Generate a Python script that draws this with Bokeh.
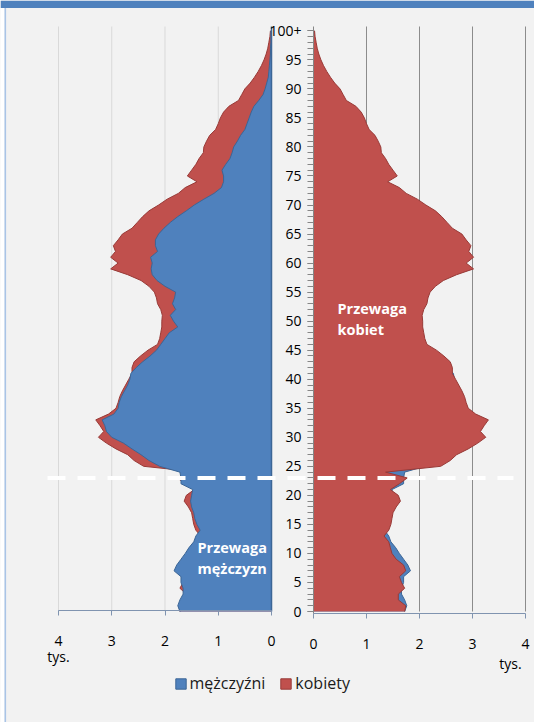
from bokeh.plotting import figure
from bokeh.models import (Range1d, LinearAxis, FixedTicker, Legend, LegendItem,
                          ColumnDataSource, BoxAnnotation)
from bokeh.core.properties import value
from bokeh.embed import file_html
from bokeh.resources import INLINE

# ---------------- data (thousands of persons, by single year of age) ----------------
ages = list(range(0, 101))
men = [
    1.72, 1.76, 1.72, 1.66, 1.66, 1.70, 1.70, 1.83, 1.78, 1.70,   # 0-9
    1.62, 1.55, 1.46, 1.42, 1.34, 1.40, 1.44, 1.46, 1.50, 1.52,   # 10-19
    1.50, 1.48, 1.70, 1.70, 1.72, 2.10, 2.30, 2.45, 2.62, 2.78,   # 20-29
    3.00, 3.10, 3.13, 3.18, 2.96, 2.88, 2.86, 2.82, 2.76, 2.70,   # 30-39
    2.66, 2.64, 2.54, 2.42, 2.28, 2.16, 2.08, 2.00, 1.92, 1.76,   # 40-49
    1.84, 1.90, 1.80, 1.86, 1.82, 1.80, 2.00, 2.15, 2.24, 2.26,   # 50-59
    2.24, 2.27, 2.14, 2.18, 2.18, 2.12, 2.02, 1.90, 1.76, 1.60,   # 60-69
    1.45, 1.27, 1.08, 0.94, 0.90, 0.90, 0.93, 0.86, 0.78, 0.74,   # 70-79
    0.71, 0.64, 0.58, 0.50, 0.46, 0.42, 0.38, 0.33, 0.24, 0.16,   # 80-89
    0.12, 0.09, 0.06, 0.05, 0.04, 0.03, 0.02, 0.02, 0.01, 0.01,   # 90-99
    0.01,                                                         # 100+
]
women = [
    1.72, 1.74, 1.60, 1.60, 1.72, 1.66, 1.62, 1.74, 1.70, 1.56,   # 0-9
    1.48, 1.45, 1.42, 1.33, 1.42, 1.46, 1.48, 1.50, 1.56, 1.64,   # 10-19
    1.60, 1.45, 1.62, 1.77, 1.36, 2.40, 2.58, 2.70, 2.92, 3.10,   # 20-29
    3.25, 3.15, 3.22, 3.30, 3.06, 2.92, 2.88, 2.85, 2.80, 2.74,   # 30-39
    2.68, 2.62, 2.62, 2.58, 2.46, 2.32, 2.14, 2.10, 2.08, 2.06,   # 40-49
    2.06, 2.05, 2.08, 2.14, 2.16, 2.20, 2.30, 2.45, 2.70, 3.02,   # 50-59
    2.88, 3.02, 2.93, 2.97, 2.88, 2.80, 2.62, 2.52, 2.42, 2.30,   # 60-69
    2.12, 1.96, 1.75, 1.62, 1.40, 1.58, 1.50, 1.42, 1.36, 1.28,   # 70-79
    1.27, 1.22, 1.16, 1.05, 1.00, 0.96, 0.90, 0.80, 0.62, 0.56,   # 80-89
    0.50, 0.40, 0.32, 0.25, 0.19, 0.14, 0.10, 0.07, 0.05, 0.03,   # 90-99
    0.02,                                                         # 100+
]
age_ticks = list(range(0, 101, 5))
age_tick_overrides = {100: "100+"}
value_ticks = [0, 1, 2, 3, 4]
grid_ticks = [1, 2, 3, 4]
unit_label = "tys."
series_names = ["mężczyźni", "kobiety"]
note_men = "Przewaga\nmężczyzn"
note_women = "Przewaga\nkobiet"
divider_age = 23

# ---------------- styling / layout ----------------
BLUE, BLUE_EDGE = "#4f81bd", "#3c6696"
RED, RED_EDGE = "#c0504d", "#983a37"
BG = "#f2f2f2"
FONT = value("Open Sans")
W, H = 534, 722
PAGE = 0
L_ZERO, L_UNIT = 271.0, 53.25      # left panel: page x of value 0, px per thousand
R_ZERO, R_UNIT = 313.0, 53.0       # right panel
AGE0, YEAR = 611.0, 5.807          # page y of age 0, px per year


def lx(px):
    return (L_ZERO - px) / L_UNIT


def rx(px):
    return (px - R_ZERO) / R_UNIT


def ay(py):
    return (AGE0 - py) / YEAR


x_left = Range1d(lx(PAGE), lx(PAGE + W))
x_right = Range1d(rx(PAGE), rx(PAGE + W))
y_rng = Range1d(ay(PAGE + H), ay(PAGE))

p = figure(width=W, height=H, x_range=x_left, y_range=y_rng,
           output_backend="svg", toolbar_location=None,
           x_axis_location=None, y_axis_location=None, min_border=0, title=None)
p.extra_x_ranges = {"r": x_right}
p.background_fill_color = BG
p.border_fill_color = BG
p.outline_line_color = None
p.grid.visible = False

# frame decorations (title bar strip and left border)
p.add_layout(BoxAnnotation(bottom=ay(7.5), fill_color="#4f81bd", fill_alpha=1,
                           line_color=None, level="underlay"))
p.add_layout(BoxAnnotation(right=rx(4), top=ay(7.5), fill_color="white", fill_alpha=1,
                           line_color=None, x_range_name="r", level="underlay"))
p.add_layout(BoxAnnotation(left=rx(4), right=rx(5.6), top=ay(7.5), fill_color="#a9c4e6",
                           fill_alpha=1, line_color=None, x_range_name="r", level="underlay"))

src = ColumnDataSource(dict(age=ages, men=men, women=women, zero=[0] * len(ages)))

GRID_TOP = ay(26)
AX_COL = "#8094b0"
# vertical grid lines
p.segment(x0=grid_ticks, y0=[0] * len(grid_ticks), x1=grid_ticks, y1=[GRID_TOP] * len(grid_ticks),
          line_color="#d9d9d9", line_width=1)
p.segment(x0=grid_ticks, y0=[0] * len(grid_ticks), x1=grid_ticks, y1=[GRID_TOP] * len(grid_ticks),
          line_color="#8c8c8c", line_width=1, x_range_name="r")

# left panel: women behind, men in front
p.harea(x1="zero", x2="women", y="age", source=src, fill_color=RED)
p.line(x="women", y="age", source=src, line_color=RED_EDGE, line_width=1)
p.harea(x1="zero", x2="men", y="age", source=src, fill_color=BLUE)
p.line(x="men", y="age", source=src, line_color=BLUE_EDGE, line_width=1)
# zero line and base line of the left panel
p.segment(x0=[0], y0=[0], x1=[0], y1=[GRID_TOP], line_color=BLUE_EDGE, line_width=1.5)
p.segment(x0=[value_ticks[0]], y0=[ay(610)], x1=[value_ticks[-1]], y1=[ay(610)],
          line_color=AX_COL, line_width=1)

# right panel: men behind, women in front
p.harea(x1="zero", x2="men", y="age", source=src, fill_color=BLUE, x_range_name="r")
p.line(x="men", y="age", source=src, line_color=BLUE_EDGE, line_width=1, x_range_name="r")
p.harea(x1="zero", x2="women", y="age", source=src, fill_color=RED, x_range_name="r")
p.line(x="women", y="age", source=src, line_color=RED_EDGE, line_width=1, x_range_name="r")

# divider line
p.segment(x0=[lx(47)], y0=[divider_age], x1=[lx(513)], y1=[divider_age],
          line_color="white", line_width=4, line_dash="18 12")


def style_x_axis(ax):
    ax.axis_line_color = AX_COL
    ax.major_tick_line_color = AX_COL
    ax.major_tick_in = 0
    ax.major_tick_out = 5
    ax.minor_tick_line_color = None
    ax.major_label_text_font = "Open Sans"
    ax.major_label_text_font_size = "14px"
    ax.major_label_text_color = "black"
    ax.major_label_standoff = 20


ax_l = LinearAxis(fixed_location=ay(610), bounds=(0, 4), ticker=FixedTicker(ticks=value_ticks))
style_x_axis(ax_l)
ax_l.axis_line_color = None
p.add_layout(ax_l, "below")

ax_r = LinearAxis(x_range_name="r", fixed_location=ay(613), bounds=(0, 4),
                  ticker=FixedTicker(ticks=value_ticks))
style_x_axis(ax_r)
p.add_layout(ax_r, "below")

# age axis between the panels
ax_age = LinearAxis(x_range_name="r", fixed_location=0, bounds=(ay(613), GRID_TOP),
                    ticker=FixedTicker(ticks=age_ticks, minor_ticks=ages),
                    major_label_overrides=age_tick_overrides)
ax_age.axis_line_color = "#868686"
ax_age.major_tick_line_color = "#868686"
ax_age.minor_tick_line_color = "#868686"
ax_age.major_tick_in = 0
ax_age.major_tick_out = 6
ax_age.minor_tick_in = 0
ax_age.minor_tick_out = 6
ax_age.major_label_text_font = "Open Sans"
ax_age.major_label_text_font_size = "14px"
ax_age.major_label_text_color = "black"
ax_age.major_label_standoff = 6
p.add_layout(ax_age, "left")

# unit labels
p.text(x=[4], y=[ay(656)], text=[unit_label], text_font=FONT, text_font_size="14px",
       text_color="black", text_align="center", text_baseline="middle")
p.text(x=[4], y=[ay(663)], text=[unit_label], text_font=FONT, text_font_size="14px",
       text_color="black", text_align="center", text_baseline="middle",
       x_offset=-15, x_range_name="r")

# notes
p.text(x=[lx(197)], y=[ay(557.5)], text=[note_men], text_font=FONT, text_font_size="14.5px",
       text_font_style="bold", text_color="white", text_align="left", text_baseline="middle",
       text_line_height=1.1)
p.text(x=[rx(337)], y=[ay(318.5)], text=[note_women], text_font=FONT, text_font_size="14.5px",
       text_font_style="bold", text_color="white", text_align="left", text_baseline="middle",
       text_line_height=1.1, x_range_name="r")

# legend (proxy renderers carry no visible marks)
nan = float("nan")
q_m = p.quad(left=[nan], right=[nan], top=[nan], bottom=[nan], fill_color=BLUE, line_color=BLUE_EDGE)
q_w = p.quad(left=[nan], right=[nan], top=[nan], bottom=[nan], fill_color=RED, line_color=RED_EDGE)
legend = Legend(items=[LegendItem(label=series_names[0], renderers=[q_m]),
                       LegendItem(label=series_names[1], renderers=[q_w])],
                orientation="horizontal", location=(173.5 - PAGE, (PAGE + H) - 694),
                glyph_width=13, glyph_height=13, label_height=13, label_standoff=3,
                spacing=14, padding=0, margin=0, border_line_color=None,
                background_fill_alpha=0, label_text_font="Open Sans",
                label_text_font_size="16px", label_text_color="#1a1a1a")
p.add_layout(legend)

open("out.html", "w").write(file_html(p, INLINE))
